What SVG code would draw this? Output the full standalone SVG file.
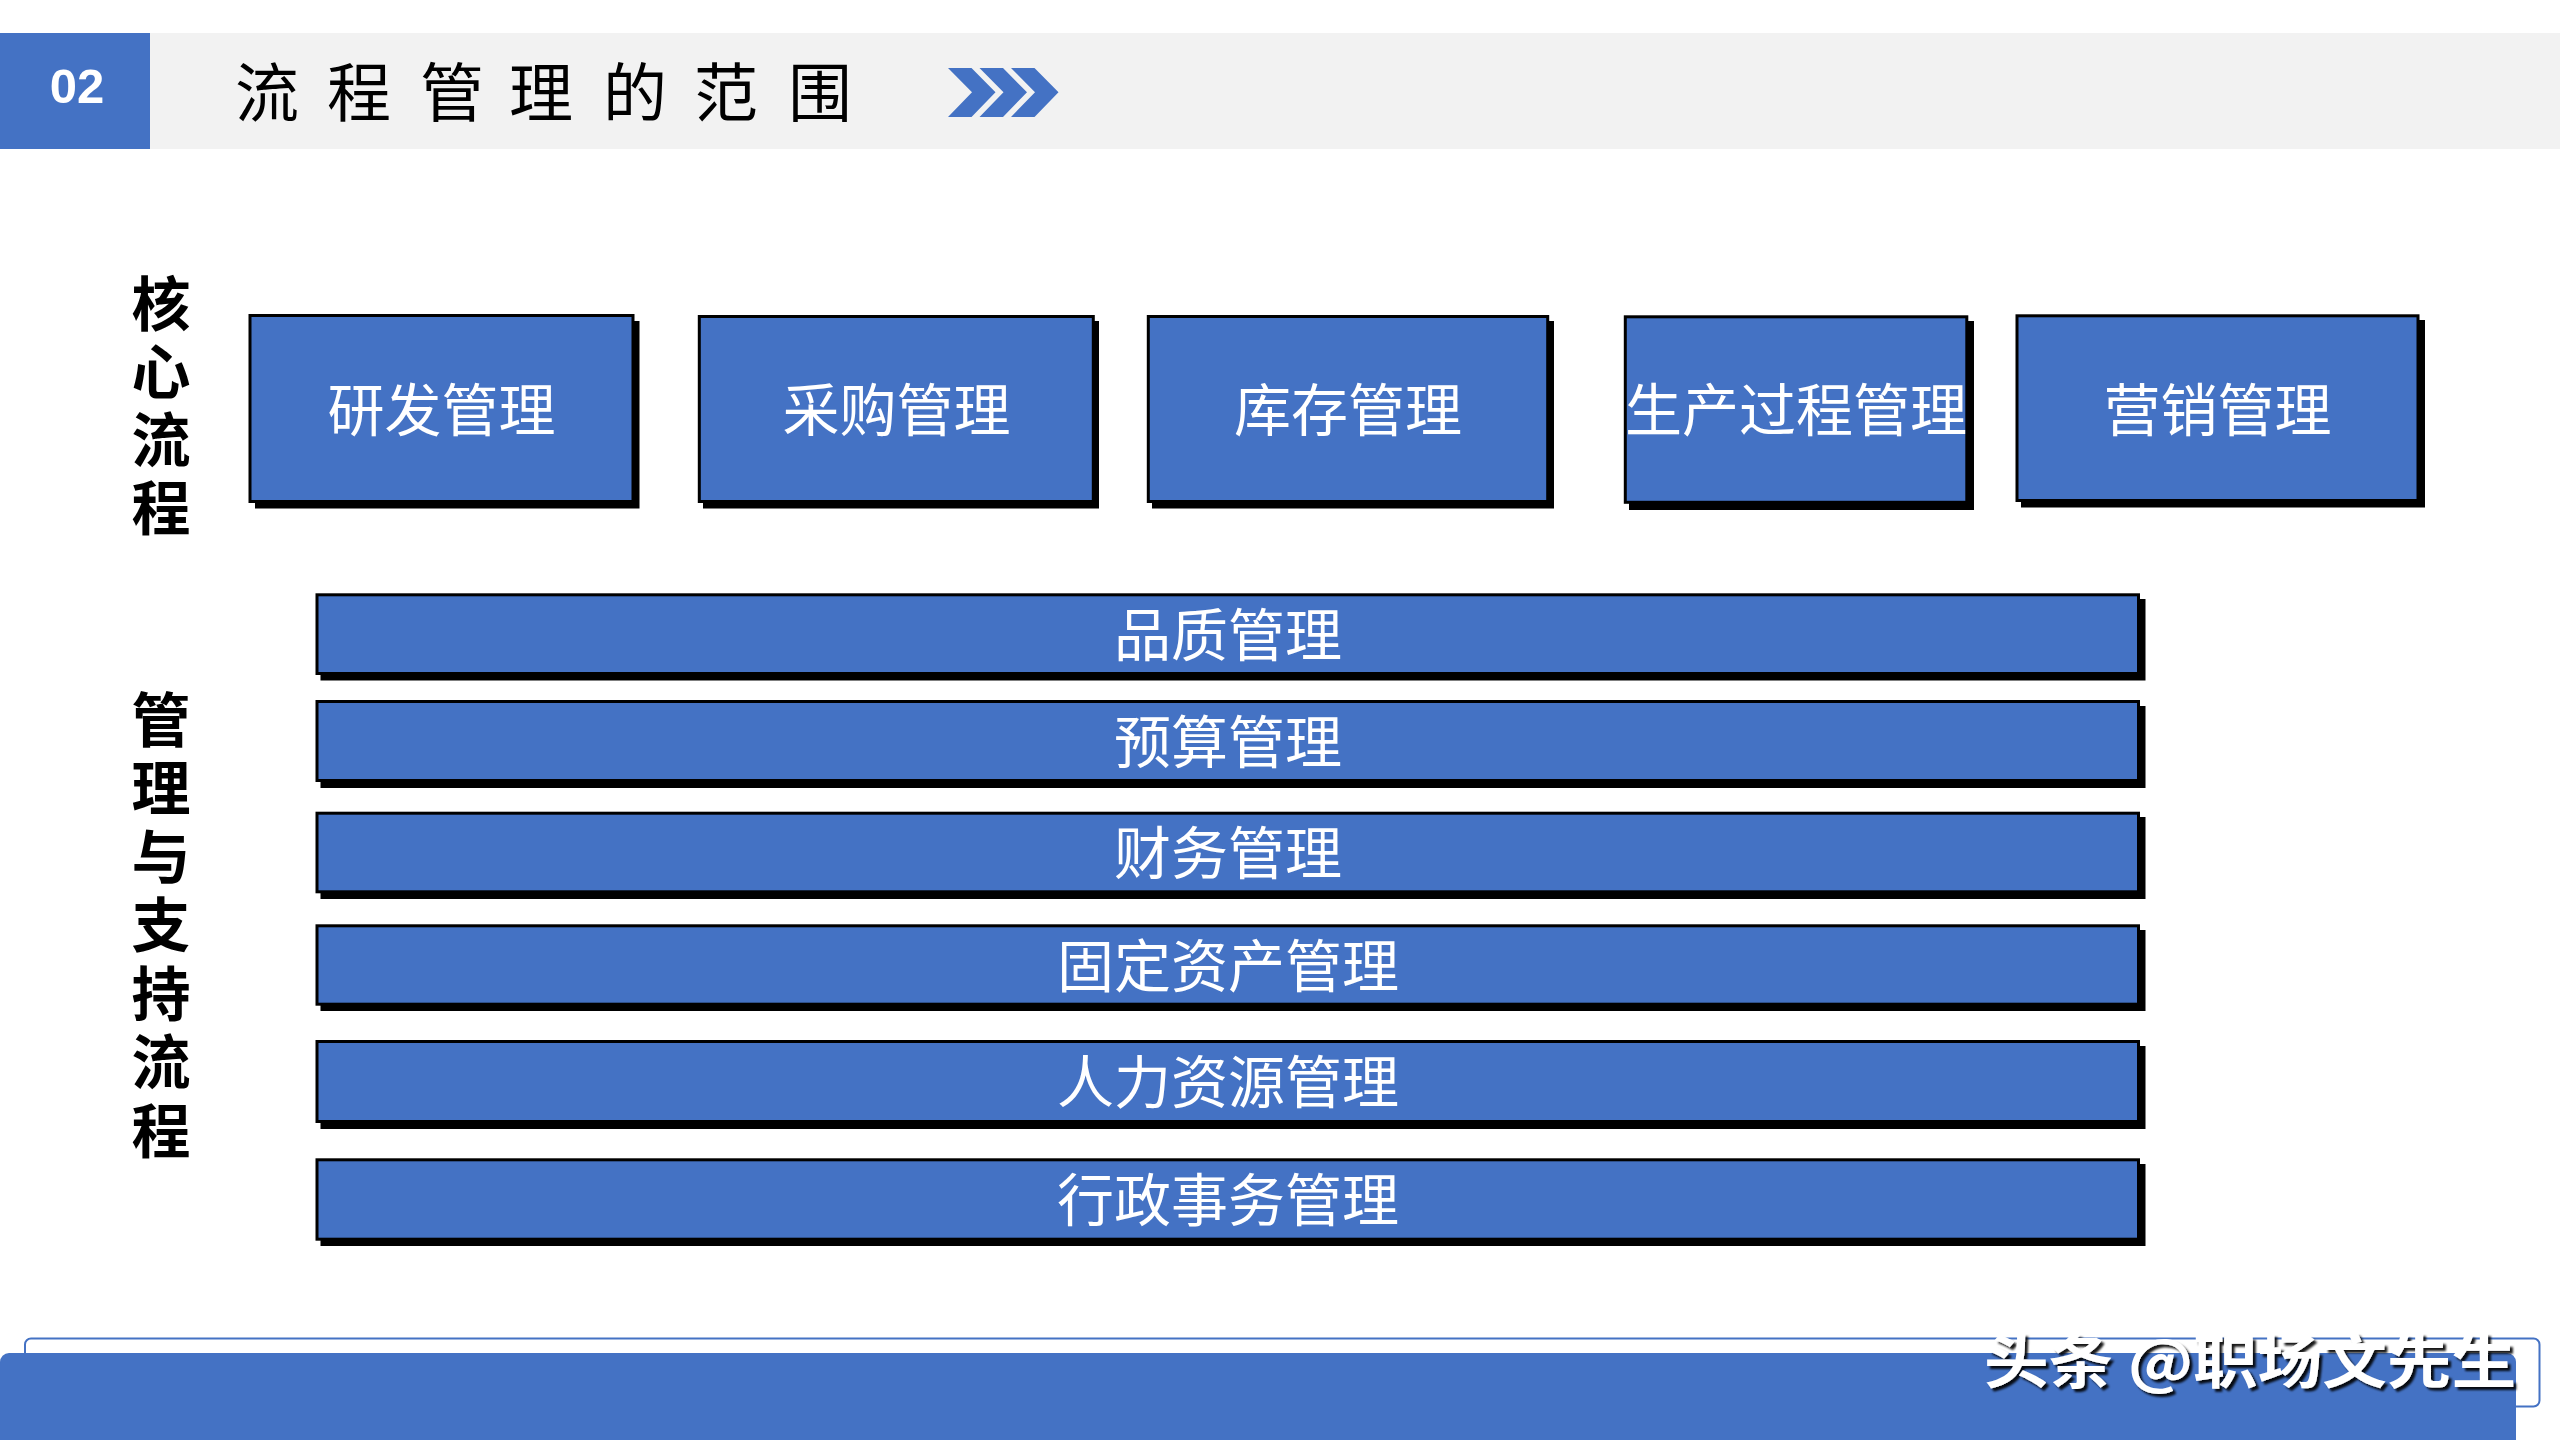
<svg xmlns="http://www.w3.org/2000/svg" width="2560" height="1440" viewBox="0 0 2560 1440">
<defs>
<style>
.box{fill:#4472C4;stroke:#000;stroke-width:3}
.shadow{fill:#000}
.lbl{font-family:"Noto Sans CJK SC","Noto Sans",sans-serif;font-size:57px;fill:#fff;text-anchor:middle}
.side{font-family:"Noto Sans CJK SC","Noto Sans",sans-serif;font-weight:bold;font-size:59px;fill:#000;writing-mode:vertical-rl;text-orientation:upright}
.title{font-family:"Noto Sans CJK SC","Noto Sans",sans-serif;font-size:64px;fill:#000}
.chev{fill:#4472C4}
</style>
<filter id="ds" x="-5%" y="-20%" width="110%" height="140%">
<feDropShadow dx="3" dy="3" stdDeviation="0.8" flood-color="#000" flood-opacity="0.9"/>
</filter>
</defs>
<rect width="2560" height="1440" fill="#fff"/>

<g id="header">
<rect x="0" y="33" width="2560" height="116" fill="#F2F2F2"/>
<rect x="0" y="33" width="150" height="116" fill="#4472C4"/>
<text x="77" y="102.5" font-family="Liberation Sans, Arial, sans-serif" font-weight="bold" font-size="49" fill="#fff" text-anchor="middle">02</text>
<text class="title" x="235 327 420 509 603 694 788" y="116">流程管理的范围</text>
<polygon class="chev" points="948,68 971.5,68 995.5,92.3 971.5,117 948,117 972,92.3"/>
<polygon class="chev" points="979.5,68 1003,68 1027,92.3 1003,117 979.5,117 1003.5,92.3"/>
<polygon class="chev" points="1011,68 1034.5,68 1058.5,92.3 1034.5,117 1011,117 1035,92.3"/>
</g>

<g id="label-core">
<text class="side" x="161" y="274.5" letter-spacing="9">核心流程</text>
</g>

<g id="label-support">
<text class="side" x="161" y="690" letter-spacing="9.5">管理与支持流程</text>
</g>

<g id="node-rd">
<rect class="shadow" x="255" y="321" width="384.5" height="187.5"/>
<rect class="box" x="250" y="315.5" width="383" height="186"/>
<text class="lbl" x="441.5" y="431">研发管理</text>
</g>
<g id="node-purchase">
<rect class="shadow" x="703" y="321" width="396" height="187.5"/>
<rect class="box" x="699.3" y="316.5" width="394" height="185"/>
<text class="lbl" x="896.4" y="431">采购管理</text>
</g>
<g id="node-inventory">
<rect class="shadow" x="1152" y="321" width="402" height="187.5"/>
<rect class="box" x="1148.3" y="316.5" width="399.4" height="185"/>
<text class="lbl" x="1348" y="431">库存管理</text>
</g>
<g id="node-production">
<rect class="shadow" x="1629" y="321" width="345" height="189"/>
<rect class="box" x="1625.3" y="316.8" width="341.5" height="185.5"/>
<text class="lbl" x="1796" y="431">生产过程管理</text>
</g>
<g id="node-marketing">
<rect class="shadow" x="2021" y="320" width="404" height="187.5"/>
<rect class="box" x="2017" y="315.8" width="401" height="184.7"/>
<text class="lbl" x="2217.5" y="431">营销管理</text>
</g>

<g id="node-quality">
<rect class="shadow" x="320.5" y="599" width="1825" height="81.5"/>
<rect class="box" x="317" y="594.8" width="1821.5" height="78.7"/>
<text class="lbl" x="1228" y="655.7">品质管理</text>
</g>
<g id="node-budget">
<rect class="shadow" x="320.5" y="706" width="1825" height="82"/>
<rect class="box" x="317" y="701.5" width="1821.5" height="79"/>
<text class="lbl" x="1228" y="762.7">预算管理</text>
</g>
<g id="node-finance">
<rect class="shadow" x="320.5" y="817" width="1825" height="82"/>
<rect class="box" x="317" y="813.2" width="1821.5" height="78.6"/>
<text class="lbl" x="1228" y="874.2">财务管理</text>
</g>
<g id="node-assets">
<rect class="shadow" x="320.5" y="930" width="1825" height="81"/>
<rect class="box" x="317" y="925.8" width="1821.5" height="78.4"/>
<text class="lbl" x="1228" y="986.7">固定资产管理</text>
</g>
<g id="node-hr">
<rect class="shadow" x="320.5" y="1046" width="1825" height="83"/>
<rect class="box" x="317" y="1041.5" width="1821.5" height="80"/>
<text class="lbl" x="1228" y="1103.2">人力资源管理</text>
</g>
<g id="node-admin">
<rect class="shadow" x="320.5" y="1164" width="1825" height="82"/>
<rect class="box" x="317" y="1159.8" width="1821.5" height="79.4"/>
<text class="lbl" x="1228" y="1221.2">行政事务管理</text>
</g>

<g id="connectors"></g>

<g id="footer">
<rect x="25" y="1338.5" width="2514.5" height="68" rx="6" fill="#fff" stroke="#4472C4" stroke-width="2"/>
<rect x="0" y="1353" width="2516" height="95" rx="9" fill="#4472C4"/>
<text x="1984" y="1383" font-family="Noto Sans CJK SC, Noto Sans, sans-serif" font-weight="bold" font-size="58" fill="#fff" textLength="532" lengthAdjust="spacingAndGlyphs" filter="url(#ds)">头条 @职场文先生</text>
</g>
</svg>
